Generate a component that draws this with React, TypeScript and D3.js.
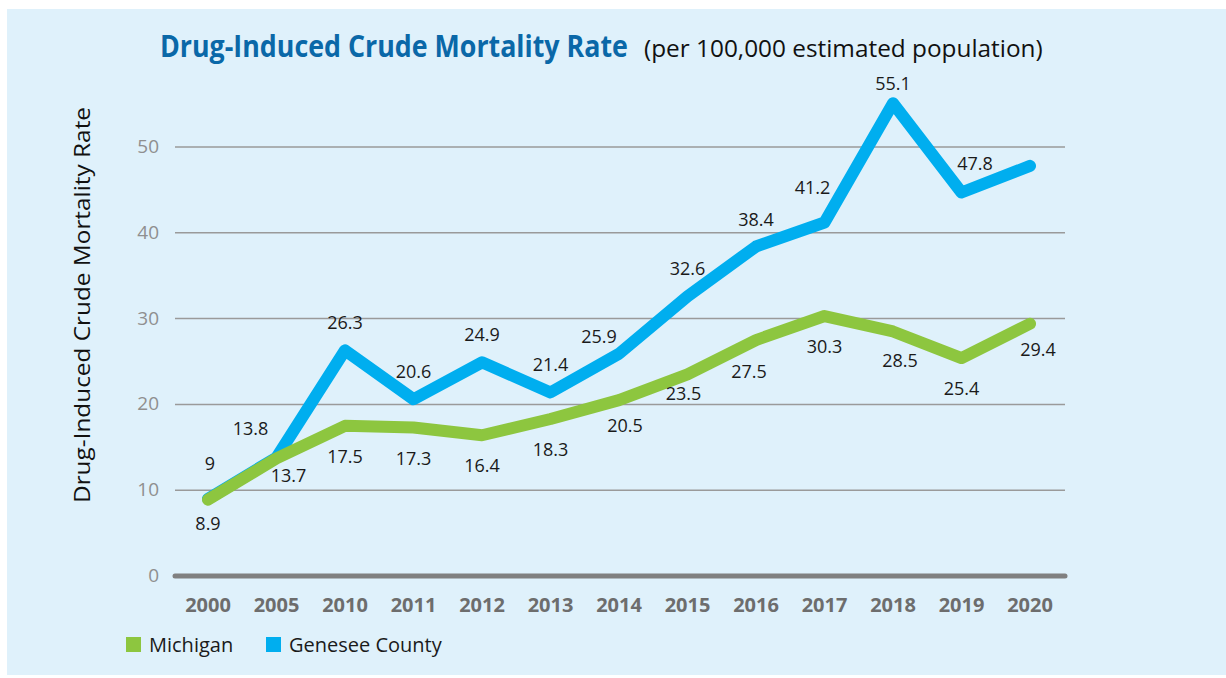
import React, { useLayoutEffect, useRef, useState } from "react";
import * as d3 from "d3";

const years = ["2000", "2005", "2010", "2011", "2012", "2013", "2014", "2015", "2016", "2017", "2018", "2019", "2020"];
const michigan = [8.9, 13.7, 17.5, 17.3, 16.4, 18.3, 20.5, 23.5, 27.5, 30.3, 28.5, 25.4, 29.4];
const genesee = [9, 13.8, 26.3, 20.6, 24.9, 21.4, 25.9, 32.6, 38.4, 41.2, 55.1, 44.7, 47.8];
const geneseeLabelShown = [true, true, true, true, true, true, true, true, true, true, true, false, true];
const yTicks = [0, 10, 20, 30, 40, 50];
const seriesNames = ["Michigan", "Genesee County"];
const titleMain = "Drug-Induced Crude Mortality Rate";
const titleSub = "(per 100,000 estimated population)";

const W = 1226;
const H = 678;
const BLUE = "#00aeef";
const GREEN = "#8dc63f";
const FONT = "'Open Sans', 'Noto Sans', sans-serif";

// label nudges (style only)
const gNudge: Record<string, [number, number]> = {
  "2000": [2, -36],
  "2005": [-26, -30],
  "2014": [-20, -18],
  "2017": [-12, -36],
  "2018": [0, -20],
  "2020": [-55, -3],
};
const mNudge: Record<string, [number, number]> = {
  "2000": [0, 23],
  "2005": [12, 17],
  "2014": [6, 25],
  "2015": [-4, 19],
  "2016": [-7, 31],
  "2018": [7, 29],
  "2020": [8, 25],
};

export default function App() {
  const x = d3.scalePoint<string>().domain(years).range([208, 1030]);
  const y = d3.scaleLinear().domain([0, 50]).range([576, 147]);
  const line = d3
    .line<number>()
    .x((_, i) => x(years[i]) as number)
    .y((d) => y(d));

  const t1 = useRef<SVGTextElement>(null);
  const t2 = useRef<SVGTextElement>(null);
  const [s1, setS1] = useState(1);
  const [s2, setS2] = useState(1);
  useLayoutEffect(() => {
    if (t1.current) {
      const w = t1.current.getComputedTextLength();
      if (w > 0) setS1(468 / w);
    }
    if (t2.current) {
      const w = t2.current.getComputedTextLength();
      if (w > 0) setS2(399 / w);
    }
  }, []);

  return (
    <svg width={W} height={H} style={{ position: "absolute", left: 0, top: 0 }}>
      <rect x={7} y={9} width={W - 7} height={666} fill="#dff1fb" />
      <text ref={t1} transform={`translate(160,57) scale(${s1},1)`} fontFamily={FONT} fontWeight={700} fontSize={30} fill="#0a68a8">
        {titleMain}
      </text>
      <text ref={t2} transform={`translate(644,57) scale(${s2},1)`} fontFamily={FONT} fontSize={24} fill="#111">
        {titleSub}
      </text>
      <text
        transform={`translate(90,305) rotate(-90)`}
        textAnchor="middle"
        fontFamily={FONT}
        fontSize={22}
        fill="#111"
        textLength={396}
        lengthAdjust="spacingAndGlyphs"
      >
        Drug-Induced Crude Mortality Rate
      </text>
      {yTicks.map((t) => (
        <g key={t}>
          {t > 0 && <line x1={175} x2={1065} y1={y(t)} y2={y(t)} stroke="#9a9a9a" strokeWidth={1.5} />}
          <text x={159} y={y(t) + 6} textAnchor="end" fontFamily={FONT} fontSize={19} fill="#8f8f8f">
            {t}
          </text>
        </g>
      ))}
      <line x1={175} x2={1065} y1={y(0)} y2={y(0)} stroke="#808080" strokeWidth={5} strokeLinecap="round" />
      {years.map((yr) => (
        <text key={yr} x={x(yr)} y={612} textAnchor="middle" fontFamily={FONT} fontWeight={700} fontSize={20} fill="#6d6d6d">
          {yr}
        </text>
      ))}
      <path d={line(genesee) || ""} fill="none" stroke={BLUE} strokeWidth={12} strokeLinejoin="round" strokeLinecap="round" />
      <path d={line(michigan) || ""} fill="none" stroke={GREEN} strokeWidth={12} strokeLinejoin="round" strokeLinecap="round" />
      {genesee.map((v, i) => {
        if (!geneseeLabelShown[i]) return null;
        const [dx, dy] = gNudge[years[i]] || [0, -28];
        return (
          <text key={"g" + i} x={(x(years[i]) as number) + dx} y={y(v) + dy + 7} textAnchor="middle" fontFamily={FONT} fontSize={18} fill="#1a1a1a">
            {v}
          </text>
        );
      })}
      {michigan.map((v, i) => {
        const [dx, dy] = mNudge[years[i]] || [0, 30];
        return (
          <text key={"m" + i} x={(x(years[i]) as number) + dx} y={y(v) + dy + 7} textAnchor="middle" fontFamily={FONT} fontSize={18} fill="#1a1a1a">
            {v}
          </text>
        );
      })}
      {seriesNames.map((n, i) => {
        const lx = i === 0 ? 126 : 266;
        return (
          <g key={n}>
            <rect x={lx} y={637} width={15} height={15} fill={i === 0 ? GREEN : BLUE} />
            <text x={lx + 23} y={652} fontFamily={FONT} fontSize={20} fill="#1a1a1a">
              {n}
            </text>
          </g>
        );
      })}
    </svg>
  );
}
